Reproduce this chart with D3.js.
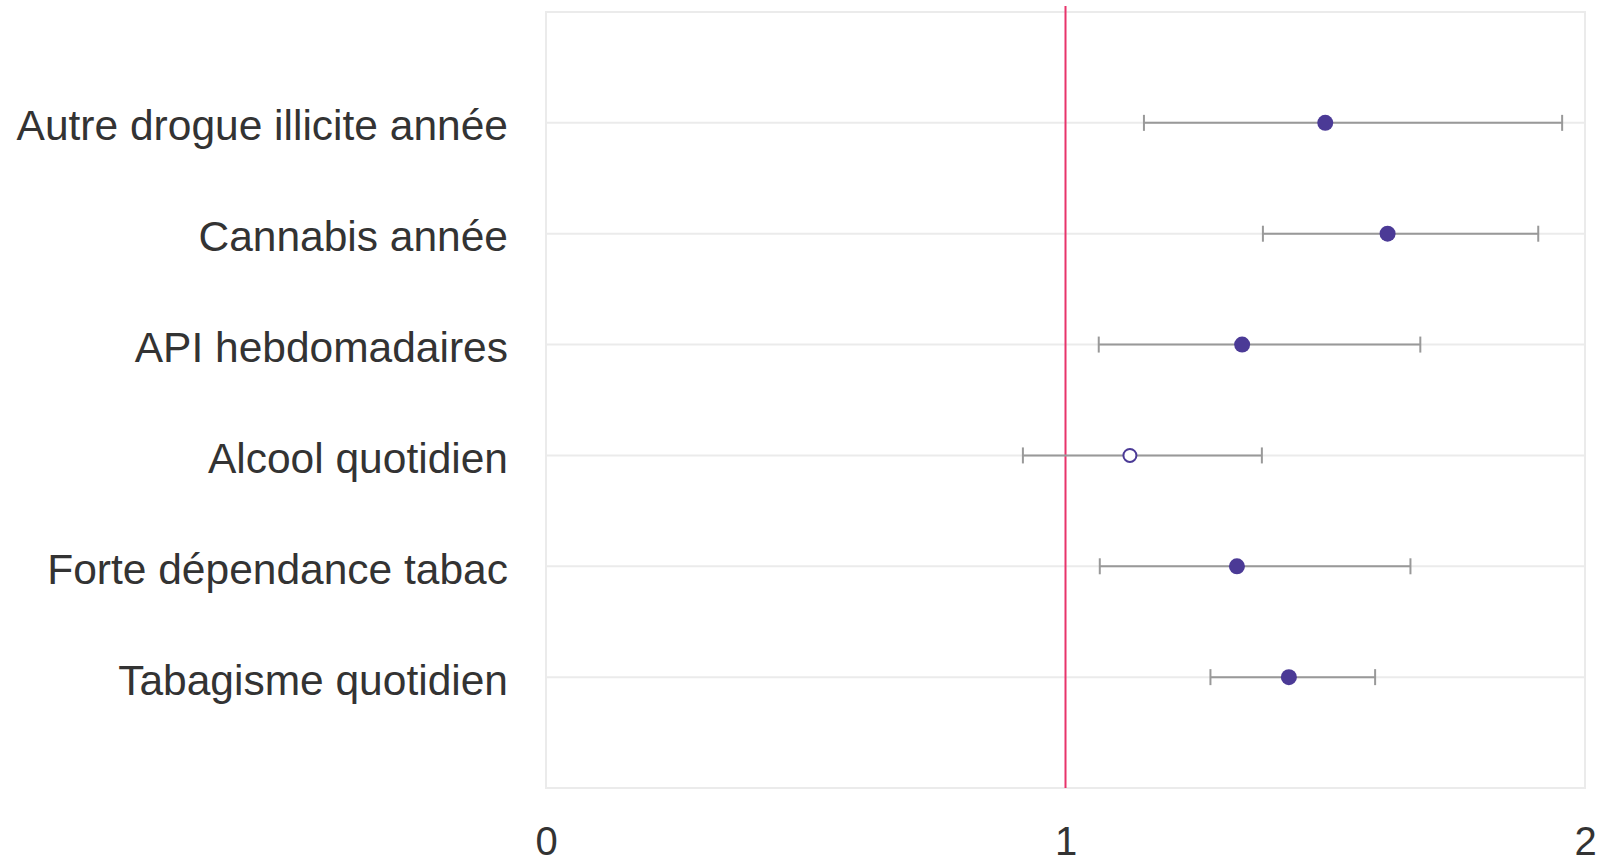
<!DOCTYPE html>
<html>
<head>
<meta charset="utf-8">
<script src="https://cdn.jsdelivr.net/npm/d3@7"></script>
<style>
  body { margin: 0; background: #fff; }
  text { font-family: "Liberation Sans", Arial, sans-serif; fill: #333; }
</style>
</head>
<body>
<div id="chart"></div>
<script>
// categories top to bottom
var categories = ["Autre drogue illicite année", "Cannabis année", "API hebdomadaires",
                  "Alcool quotidien", "Forte dépendance tabac", "Tabagisme quotidien"];
var estimates = [1.50, 1.62, 1.34, 1.124, 1.33, 1.43];
var lower     = [1.151, 1.38, 1.064, 0.918, 1.066, 1.279];
var upper     = [1.956, 1.91, 1.683, 1.378, 1.664, 1.596];
var significant = [true, true, true, false, true, true];
var xTicks = [0, 1, 2];

var width = 1602, height = 863;
var margin = {top: 12, right: 17, bottom: 75, left: 546};
var innerW = width - margin.left - margin.right,
    innerH = height - margin.top - margin.bottom;

var data = categories.map(function(c, i) {
  return {cat: c, est: estimates[i], lo: lower[i], hi: upper[i], sig: significant[i]};
});

var xScale = d3.scaleLinear().domain([0, 2]).range([0, innerW]);
var yScale = d3.scalePoint().domain(categories).range([0, innerH]).padding(1);

var svg = d3.select("#chart").append("svg")
    .attr("width", width)
    .attr("height", height)
  .append("g")
    .attr("transform", "translate(" + margin.left + "," + margin.top + ")");

// panel border
svg.append("rect")
    .attr("width", innerW)
    .attr("height", innerH)
    .attr("fill", "none")
    .attr("stroke", "#ebebeb")
    .attr("stroke-width", 2);

// horizontal grid lines
svg.selectAll(".grid")
    .data(categories)
  .enter().append("line")
    .attr("x1", 0).attr("x2", innerW)
    .attr("y1", function(d) { return yScale(d); })
    .attr("y2", function(d) { return yScale(d); })
    .attr("stroke", "#ebebeb")
    .attr("stroke-width", 2);

// y labels
svg.selectAll(".ylab")
    .data(categories)
  .enter().append("text")
    .attr("x", -38)
    .attr("y", function(d) { return yScale(d); })
    .attr("dy", "0.41em")
    .attr("text-anchor", "end")
    .style("font-size", "42.5px")
    .text(function(d) { return d; });

// x axis
var xAxis = svg.append("g")
    .attr("transform", "translate(0," + innerH + ")")
    .call(d3.axisBottom(xScale).tickValues(xTicks).tickFormat(d3.format("d")).tickSize(0).tickPadding(39));
xAxis.select(".domain").remove();
xAxis.selectAll("text")
    .style("font-size", "40px")
    .style("fill", "#333")
    .attr("font-family", "Liberation Sans, Arial, sans-serif");

// reference line at 1
svg.append("line")
    .attr("x1", xScale(1)).attr("x2", xScale(1))
    .attr("y1", -6).attr("y2", innerH)
    .attr("stroke", "#e8336b")
    .attr("stroke-width", 2);

// error bars
var bars = svg.selectAll(".err")
    .data(data)
  .enter().append("g");

bars.append("line")
    .attr("x1", function(d) { return xScale(d.lo); })
    .attr("x2", function(d) { return xScale(d.hi); })
    .attr("y1", function(d) { return yScale(d.cat); })
    .attr("y2", function(d) { return yScale(d.cat); })
    .attr("stroke", "#999")
    .attr("stroke-width", 2);

["lo", "hi"].forEach(function(k) {
  bars.append("line")
      .attr("x1", function(d) { return xScale(d[k]); })
      .attr("x2", function(d) { return xScale(d[k]); })
      .attr("y1", function(d) { return yScale(d.cat) - 8; })
      .attr("y2", function(d) { return yScale(d.cat) + 8; })
      .attr("stroke", "#999")
      .attr("stroke-width", 2);
});

// points
bars.append("circle")
    .attr("cx", function(d) { return xScale(d.est); })
    .attr("cy", function(d) { return yScale(d.cat); })
    .attr("r", function(d) { return d.sig ? 8 : 6.5; })
    .attr("fill", function(d) { return d.sig ? "#4b3a96" : "#fff"; })
    .attr("stroke", "#4b3a96")
    .attr("stroke-width", function(d) { return d.sig ? 0 : 2; });
</script>
</body>
</html>
